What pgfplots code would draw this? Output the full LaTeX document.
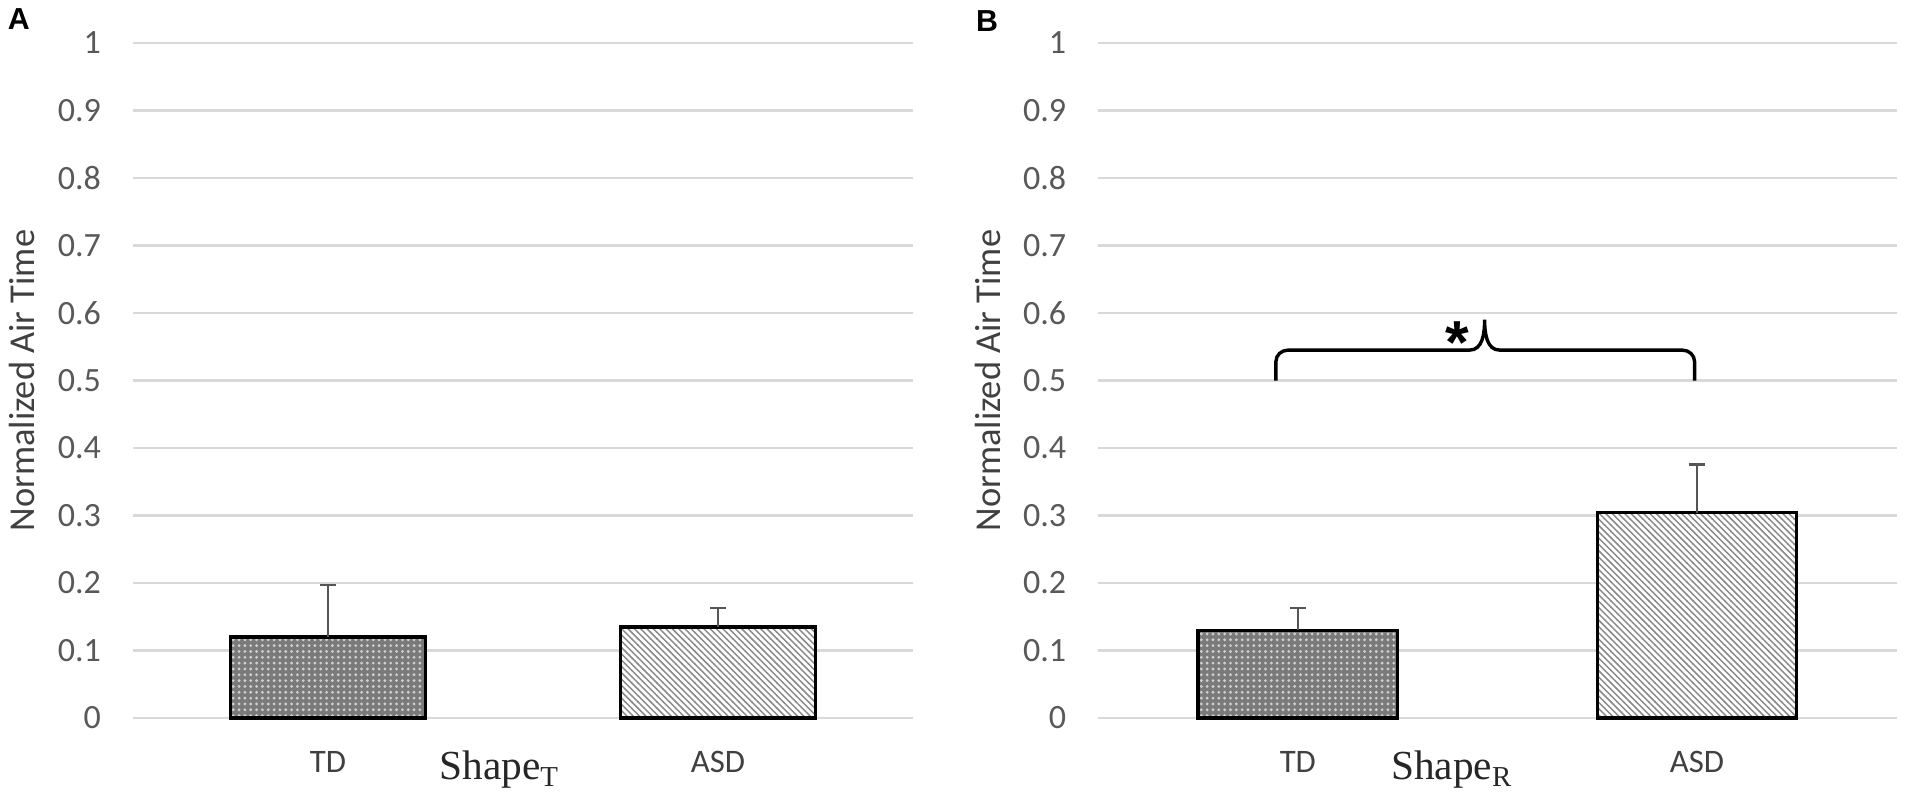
\documentclass[border=0pt]{standalone}
\usepackage{fontspec}
\usepackage{pgfplots}
\pgfplotsset{compat=1.18}
\usetikzlibrary{patterns,patterns.meta}
\newfontfamily\calibri{Carlito}
\newfontfamily\tnr{Liberation Serif}
\newfontfamily\arial{Liberation Sans}
\definecolor{tickgray}{HTML}{595959}
\definecolor{labgray}{HTML}{404040}
\definecolor{gridgray}{HTML}{D9D9D9}
\definecolor{tdfill}{HTML}{7A7A7A}
\definecolor{tddot}{HTML}{CFCFCF}
\definecolor{hatchgray}{HTML}{8A8A8A}
\definecolor{errgray}{HTML}{555555}

\tikzdeclarepattern{
  name=mydots,
  type=uncolored,
  bounding box={(-1.2pt,-1.2pt) and (1.2pt,1.2pt)},
  tile size={(2.4pt,2.4pt)},
  code={\pgfpathcircle{\pgfpointorigin}{0.65pt}\pgfusepath{fill}}
}
\tikzdeclarepattern{
  name=myhatch,
  type=uncolored,
  bounding box={(-1pt,-1pt) and (3.6pt,3.6pt)},
  tile size={(2.6pt,2.6pt)},
  code={\pgfsetlinewidth{0.6pt}\pgfpathmoveto{\pgfqpoint{-0.1pt}{2.7pt}}\pgfpathlineto{\pgfqpoint{2.7pt}{-0.1pt}}\pgfusepath{stroke}}
}

\pgfplotsset{
  mybase/.style={
    scale only axis,
    height=277.8pt,
    anchor=south west,
    xmin=-0.5, xmax=1.5, ymin=0, ymax=1,
    ytick={0,0.1,0.2,0.3,0.4,0.5,0.6,0.7,0.8,0.9,1},
    yticklabels={0,0.1,0.2,0.3,0.4,0.5,0.6,0.7,0.8,0.9,1},
    xtick={0,1}, xticklabels={TD,ASD},
    ymajorgrids, major grid style={gridgray, line width=1.1pt},
    axis line style={draw=none},
    major tick length=0pt, tick style={draw=none},
    yticklabel style={anchor=east, inner sep=0pt, xshift=-13pt, font=\calibri\fontsize{14}{16}\selectfont, text=tickgray},
    xticklabel style={anchor=center, inner sep=0pt, yshift=-18pt, font=\calibri\fontsize{13.5}{16}\selectfont, text=labgray},
    clip=false,
  },
  tdbar/.style={ybar, bar width=0.5, bar shift=0pt, draw=black, line width=1.35pt, fill=tdfill,
    postaction={pattern=mydots, pattern color=tddot},
    error bars/.cd, y dir=plus, y explicit,
    error bar style={errgray, line width=1.05pt},
    error mark options={rotate=90, mark size=3.4pt, errgray, line width=1.05pt}},
  asdbar/.style={ybar, bar width=0.5, bar shift=0pt, draw=black, line width=1.35pt, fill=white,
    postaction={pattern=myhatch, pattern color=hatchgray},
    error bars/.cd, y dir=plus, y explicit,
    error bar style={errgray, line width=1.05pt},
    error mark options={rotate=90, mark size=3.4pt, errgray, line width=1.05pt}},
}

\begin{document}
\begin{tikzpicture}
\useasboundingbox (0,0) rectangle (784pt,330.5pt);

% Panel A
\begin{axis}[mybase, at={(54.75pt,35pt)}, width=321pt]
\addplot[tdbar] coordinates {(0,0.12) +- (0,0.077)};
\addplot[asdbar] coordinates {(1,0.135) +- (0,0.028)};
\end{axis}

% Panel B
\begin{axis}[mybase, at={(452pt,35pt)}, width=328.5pt]
\addplot[tdbar] coordinates {(0,0.130) +- (0,0.033)};
\addplot[asdbar] coordinates {(1,0.304) +- (0,0.072)};
\draw[black, line width=1.4pt]
  (axis cs:-0.055,0.5) -- (axis cs:-0.055,0.528)
  to[out=90,in=180] (axis cs:-0.025,0.545)
  -- (axis cs:0.43,0.545)
  to[out=0,in=-90] (axis cs:0.468,0.59)
  to[out=-90,in=180] (axis cs:0.506,0.545)
  -- (axis cs:0.964,0.545)
  to[out=0,in=90] (axis cs:0.994,0.528)
  -- (axis cs:0.994,0.5);
\node[font=\arial\bfseries\fontsize{25}{27}\selectfont, anchor=base, yshift=-14pt] at (axis cs:0.40,0.575) {*};
\end{axis}

% y labels
\node[rotate=90, font=\calibri\fontsize{15}{17}\selectfont, text=labgray] at (9pt,173.9pt) {Normalized Air Time};
\node[rotate=90, font=\calibri\fontsize{15}{17}\selectfont, text=labgray] at (406.5pt,173.9pt) {Normalized Air Time};

% group labels
\node[anchor=base, font=\tnr\fontsize{17}{19}\selectfont, text=black!85] at (205.5pt,9.5pt) {Shape\textsubscript{T}};
\node[anchor=base, font=\tnr\fontsize{17}{19}\selectfont, text=black!85] at (597.5pt,9.5pt) {Shape\textsubscript{R}};

% panel letters
\node[font=\arial\bfseries\fontsize{12.5}{14}\selectfont] at (7.75pt,322.5pt) {A};
\node[font=\arial\bfseries\fontsize{12.5}{14}\selectfont] at (406.25pt,322pt) {B};
\end{tikzpicture}
\end{document}
